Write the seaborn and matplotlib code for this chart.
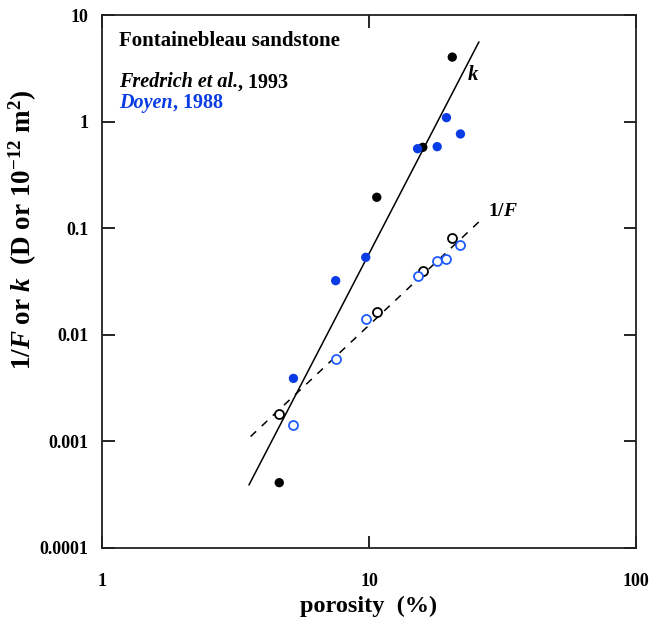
import numpy as np
import pandas as pd
import seaborn as sns
import matplotlib
matplotlib.use('Agg')
import matplotlib.pyplot as plt

por_fred = [4.61, 10.69, 15.9, 20.5]
k_fred = [0.00041, 0.195, 0.574, 4.03]
invF_fred = [0.00179, 0.0165, 0.0399, 0.081]

por_doyen = [5.21, 7.5, 9.72, 15.2, 18.0, 19.5, 22.0]
k_doyen = [0.0039, 0.0322, 0.0533, 0.557, 0.582, 1.09, 0.766]
invF_doyen = [0.00142, 0.00593, 0.01396, 0.0358, 0.049, 0.0514, 0.0695]

# fitted trend lines (end points)
k_fit_por = [3.55, 25.8]
k_fit = [0.00039, 5.6]
f_fit_por = [3.6, 26.2]
f_fit = [0.00111, 0.119]

x_ticks = [1, 10, 100]
x_ticklabels = ['1', '10', '100']
y_ticks = [0.0001, 0.001, 0.01, 0.1, 1, 10]
y_ticklabels = ['0.0001', '0.001', '0.01', '0.1', '1', '10']

BLUE = '#0a3ce6'
BLUE_OPEN = '#1f5cff'

# plot settings
sns.set_theme(style='ticks')
plt.rcParams['font.family'] = ['Liberation Serif', 'DejaVu Serif']
plt.rcParams['font.weight'] = 'bold'
plt.rcParams['text.color'] = 'black'
plt.rcParams['axes.labelcolor'] = 'black'
plt.rcParams['mathtext.fontset'] = 'custom'
plt.rcParams['mathtext.rm'] = 'Liberation Serif:bold'
plt.rcParams['mathtext.bf'] = 'Liberation Serif:bold'
plt.rcParams['mathtext.it'] = 'Liberation Serif:italic:bold'

fig = plt.figure(figsize=(6.5, 6.18), dpi=100)
ax = fig.add_axes([0.157, 0.1133, 0.8215, 0.8624])

fred = pd.DataFrame({'por': por_fred, 'k': k_fred, 'invF': invF_fred})
doyen = pd.DataFrame({'por': por_doyen, 'k': k_doyen, 'invF': invF_doyen})

# fit lines
sns.lineplot(x=k_fit_por, y=k_fit, ax=ax, color='black', linewidth=1.1)
sns.lineplot(x=f_fit_por, y=f_fit, ax=ax, color='black', linewidth=1.1,
             linestyle=(0, (5, 5)))

# permeability: filled circles
sns.scatterplot(data=fred, x='por', y='k', ax=ax, color='black', s=45,
                edgecolor='none', zorder=3)
sns.scatterplot(data=doyen, x='por', y='k', ax=ax, color=BLUE, s=45,
                edgecolor='none', zorder=3)

# formation factor: open circles
sns.scatterplot(data=fred, x='por', y='invF', ax=ax, facecolor='white',
                edgecolor='black', linewidth=1.3, s=42, zorder=3)
sns.scatterplot(data=doyen, x='por', y='invF', ax=ax, facecolor='white',
                edgecolor=BLUE_OPEN, linewidth=1.3, s=42, zorder=3)

ax.set_xscale('log')
ax.set_yscale('log')
ax.set_xlim(1, 100)
ax.set_ylim(0.0001, 10)
ax.set_xticks(x_ticks)
ax.set_xticklabels(x_ticklabels)
ax.set_yticks(y_ticks)
ax.set_yticklabels(y_ticklabels)
ax.minorticks_off()
ax.tick_params(which='major', direction='in', length=9, width=1.2,
               top=True, right=True, labelsize=13, colors='black',
               labelcolor='black')
ax.tick_params(axis='x', pad=18)
ax.tick_params(axis='y', pad=10)
for sp in ax.spines.values():
    sp.set_linewidth(1.3)
    sp.set_color('#222222')

ax.set_xlabel('porosity  (%)', fontsize=17.5, fontweight='bold')
ax.xaxis.set_label_coords(0.5, -0.09)
ax.set_ylabel(r'$1/F$ or $k$  (D or $\mathrm{10^{-12}}$ m$^\mathrm{2}$)',
              fontsize=19.5, fontweight='bold')
ax.yaxis.set_label_coords(-0.118, 0.597)

# annotations
ax.text(0.032, 0.942, 'Fontainebleau sandstone', transform=ax.transAxes,
        fontsize=15, fontweight='bold', va='baseline')

# source lines: italic author + upright year, joined without a gap
t_fred = ax.text(0.032, 0.855, 'Fredrich et al.', transform=ax.transAxes,
                 fontsize=14.5, fontweight='bold', style='italic',
                 va='bottom', color='black')
ax.annotate(', 1993', xy=(1, 0), xycoords=t_fred, fontsize=14.5,
            fontweight='bold', va='bottom', ha='left', color='black')
t_doy = ax.text(0.032, 0.816, 'Doyen', transform=ax.transAxes,
                fontsize=14.5, fontweight='bold', style='italic',
                va='bottom', color=BLUE)
ax.annotate(', 1988', xy=(1, 0), xycoords=t_doy, fontsize=14.5,
            fontweight='bold', va='bottom', ha='left', color=BLUE)

ax.text(24.6, 2.74, r'$k$', fontsize=15, ha='center', va='center')
ax.text(27.9, 0.142, r'$1/F$', fontsize=14, ha='left', va='center')

fig.savefig('out.png', dpi=100)
plt.close(fig)
